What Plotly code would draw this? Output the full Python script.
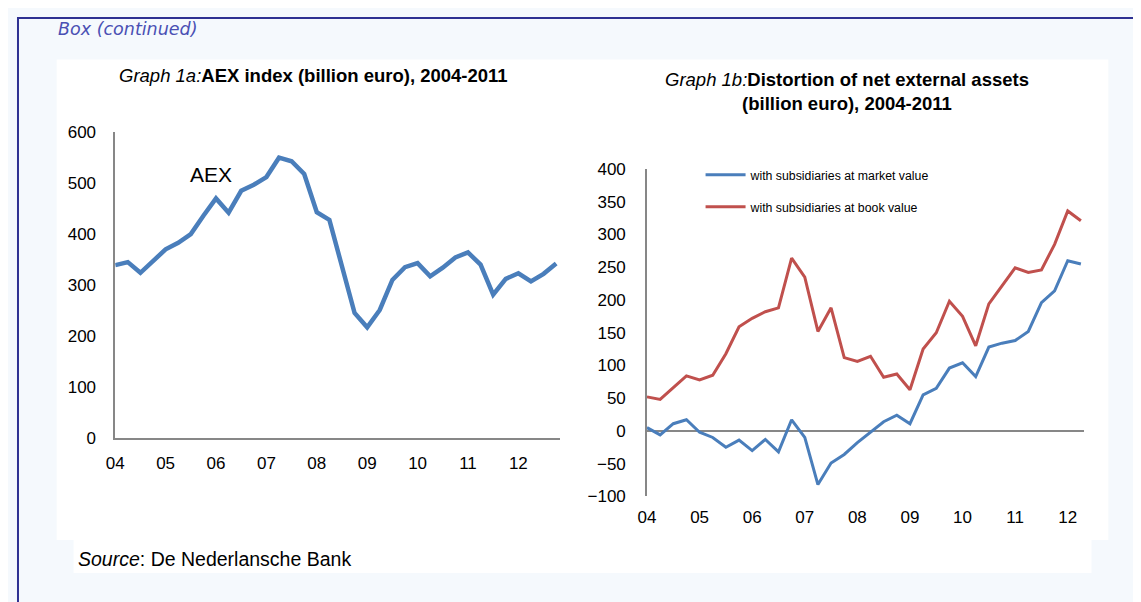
import plotly.graph_objects as go

# ---------------- data ----------------
aex_quarters = [f"{y}Q{q}" for y in range(2004, 2013) for q in range(1, 5)]
aex_values = [339, 345, 324, 347, 370, 383, 400, 436, 470, 442, 485, 497,
              512, 550, 543, 518, 443, 428, 334, 245, 217, 251, 310, 335,
              343, 317, 334, 354, 364, 340, 281, 312, 323, 307, 322, 342]

nea_quarters = aex_quarters[:34]
market_value = [5, -6, 11, 17, -2, -10, -25, -14, -30, -13, -32, 17,
                -10, -82, -49, -36, -18, -2, 14, 24, 11, 55, 65, 96,
                104, 83, 128, 134, 138, 152, 196, 214, 260, 255]
book_value = [52, 48, 66, 84, 78, 85, 118, 159, 172, 182, 188, 264,
              235, 152, 188, 112, 106, 114, 82, 87, 63, 125, 150, 198,
              175, 130, 194, 221, 249, 242, 246, 285, 336, 321]

year_ticks = [f"{y}Q1" for y in range(2004, 2013)]
year_labels = ["04", "05", "06", "07", "08", "09", "10", "11", "12"]

left_yticks = [0, 100, 200, 300, 400, 500, 600]
right_yticks = [-100, -50, 0, 50, 100, 150, 200, 250, 300, 350, 400]

# ---------------- layout helpers ----------------
W, H = 1141, 602
OFF = 8  # page margin in front of the figure


def px_x(p):
    return (p - OFF) / W


def px_y(p):
    return 1 - (p - OFF) / H


BLUE = "#4A7EBB"
RED = "#C0504D"
AXIS = "#878787"
FONT = "Liberation Sans, Arial, sans-serif"

fig = go.Figure()

fig.add_trace(go.Scatter(x=aex_quarters, y=aex_values, mode="lines",
                         line=dict(color=BLUE, width=4.5),
                         xaxis="x", yaxis="y", showlegend=False,
                         name="AEX"))
fig.add_trace(go.Scatter(x=nea_quarters, y=market_value, mode="lines",
                         line=dict(color=BLUE, width=3),
                         xaxis="x2", yaxis="y2",
                         name="with subsidiaries at market value",
                         legendgroup="a"))
fig.add_trace(go.Scatter(x=nea_quarters, y=book_value, mode="lines",
                         line=dict(color=RED, width=3),
                         xaxis="x2", yaxis="y2",
                         name="with subsidiaries at book value",
                         legendgroup="b"))

tickfont = dict(family=FONT, size=17, color="#000000")

fig.update_layout(
    width=W, height=H,
    margin=dict(l=0, r=0, t=0, b=0),
    paper_bgcolor="#F5F9FD",
    plot_bgcolor="rgba(0,0,0,0)",
    font=dict(family=FONT, color="#000000"),
    xaxis=dict(domain=[px_x(107), px_x(555)], anchor="y", type="category",
               range=[0, 35.28], tickmode="array", tickvals=year_ticks,
               ticktext=year_labels, showline=True, linecolor=AXIS,
               linewidth=1.5, showgrid=False, zeroline=False, ticks="",
               tickfont=tickfont, ticklabelstandoff=9),
    yaxis=dict(domain=[px_y(442.5), px_y(127)], anchor="x", range=[0, 600],
               tickmode="array", tickvals=left_yticks, showline=True,
               linecolor=AXIS, linewidth=1.5, showgrid=False, zeroline=False,
               ticks="", tickfont=tickfont, ticklabelstandoff=14),
    xaxis2=dict(domain=[px_x(643), px_x(1083)], anchor="y2", type="category",
                range=[0, 33.2], tickmode="array", tickvals=year_ticks,
                ticktext=year_labels, showline=False, showgrid=False,
                zeroline=False, ticks="", tickfont=tickfont,
                ticklabelstandoff=9),
    yaxis2=dict(domain=[px_y(503), px_y(165)], anchor="x2", range=[-100, 400],
                tickmode="array", tickvals=right_yticks, showline=True,
                linecolor=AXIS, linewidth=1.5, showgrid=False, zeroline=True,
                zerolinecolor=AXIS, zerolinewidth=1.5, ticks="",
                tickfont=tickfont, ticklabelstandoff=16),
    legend=dict(x=px_x(697), y=px_y(156), xanchor="left", yanchor="top",
                bgcolor="rgba(0,0,0,0)", font=dict(family=FONT, size=12.3),
                tracegroupgap=13, itemwidth=40),
    shapes=[
        dict(type="rect", xref="paper", yref="paper", x0=px_x(48), x1=px_x(1108),
             y0=px_y(548), y1=px_y(52), fillcolor="#FFFFFF", line=dict(width=0),
             layer="below"),
        dict(type="rect", xref="paper", yref="paper", x0=px_x(65), x1=px_x(1091),
             y0=px_y(582), y1=px_y(548), fillcolor="#FFFFFF", line=dict(width=0),
             layer="below"),
        dict(type="line", xref="paper", yref="paper", x0=px_x(9), x1=px_x(9),
             y0=-0.05, y1=1, line=dict(color="#2E3192", width=2)),
        dict(type="line", xref="paper", yref="paper", x0=0, x1=1.05,
             y0=px_y(9), y1=px_y(9), line=dict(color="#2E3192", width=2)),
    ],
    annotations=[
        dict(text="<i>Box (continued)</i>", xref="paper", yref="paper",
             x=px_x(47), y=px_y(20), xanchor="left", yanchor="middle",
             showarrow=False,
             font=dict(family="DejaVu Sans, sans-serif", size=17.5,
                       color="#4A50B4", weight=300),
             ),
        dict(text="<i>Graph 1a:</i><b>AEX index (billion euro), 2004-2011</b>",
             xref="paper", yref="paper", x=px_x(307), y=px_y(68),
             xanchor="center", yanchor="middle", showarrow=False,
             font=dict(family=FONT, size=18.5)),
        dict(text="<i>Graph 1b:</i><b>Distortion of net external assets</b><br>"
                  "<b>(billion euro), 2004-2011</b>",
             xref="paper", yref="paper", x=px_x(845), y=px_y(84.5),
             xanchor="center", yanchor="middle", showarrow=False,
             font=dict(family=FONT, size=18.5)),
        dict(text="AEX", xref="x", yref="y", x=7.64, y=518,
             xanchor="center", yanchor="middle", showarrow=False,
             font=dict(family=FONT, size=21)),
        dict(text="<i>Source</i>: De Nederlansche Bank", xref="paper",
             yref="paper", x=px_x(67), y=px_y(568), xanchor="left",
             yanchor="middle", showarrow=False,
             font=dict(family=FONT, size=19.5)),
    ],
)

fig.write_html("out.html")
